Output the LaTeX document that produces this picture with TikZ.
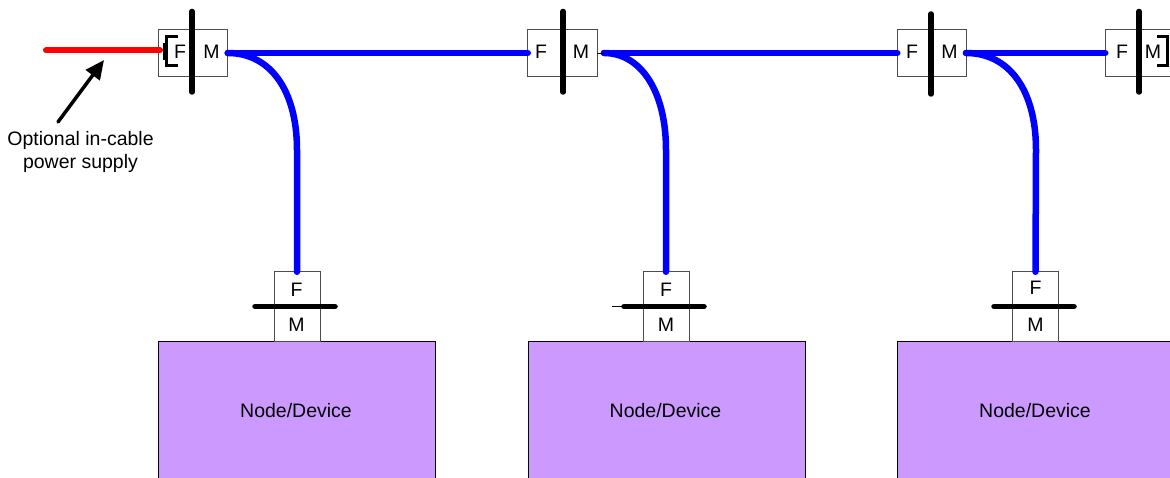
\documentclass[tikz,border=0pt]{standalone}
\usepackage{fontspec}
\setmainfont{Liberation Sans}
\usetikzlibrary{arrows.meta}
\definecolor{devicefill}{HTML}{CC99FF}
\begin{document}
\begin{tikzpicture}[
		x=1pt, y=-1pt,
		shell/.style={draw=black!70, fill=white, line width=1pt, minimum width=#1, inner sep=0pt, outer sep=0pt},
		device/.style={draw=black, fill=devicefill, line width=1pt, minimum width=277pt, minimum height=140pt, inner sep=0pt, outer sep=0pt},
		pin/.style={font=\fontsize{19.5pt}{23pt}\selectfont, inner sep=0pt},
		flange/.style={line width=5.5pt, line cap=round, color=black},
		cable/.style={line width=6.5pt, line cap=round, color=blue},
		power/.style={line width=6pt, line cap=round, color=red},
		bracket/.style={line width=3pt, color=black},
		stub/.style={line width=0.8pt, color=black},
		pointer/.style={-{Triangle[length=19pt,width=17pt]}, line width=3.5pt, line cap=round}
	]
	\clip (0,0) rectangle (1170,478);

	% Devices
	\node[device, anchor=north west] (dev1) at (158.5,341.3) {};
	\node[device, anchor=north west] (dev2) at (528,341.3) {};
	\node[device, anchor=north west] (dev3) at (897.5,341.3) {};
	\node[pin] at (296,410.5) {Node/Device};
	\node[pin] at (665.5,410.5) {Node/Device};
	\node[pin] at (1035,410.5) {Node/Device};

	% Top connectors
	\node[shell=69.5pt, minimum height=47pt] (top1) at (193,53) {};
	\node[shell=69.5pt, minimum height=47pt] (top2) at (562.5,53) {};
	\node[shell=69.5pt, minimum height=47pt] (top3) at (932,53) {};
	\node[shell=69.5pt, minimum height=47pt] (top4) at (1140,53) {};

	% Drop connectors
	\node[shell=46pt, minimum height=69.5pt] (drop1) at (297,306.5) {};
	\node[shell=46pt, minimum height=69.5pt] (drop2) at (666,306.5) {};
	\node[shell=46pt, minimum height=69.5pt] (drop3) at (1035.5,306.5) {};

	% Pin letters
	\node[pin] at (180,52) {F};
	\node[pin] at (211.5,52) {M};
	\node[pin] at (541,52) {F};
	\node[pin] at (581,52) {M};
	\node[pin] at (912,52) {F};
	\node[pin] at (949.5,52) {M};
	\node[pin] at (1122,52) {F};
	\node[pin] at (1153,52) {M};
	\node[pin] at (296.5,289.5) {F};
	\node[pin] at (296.5,324.5) {M};
	\node[pin] at (666,289.5) {F};
	\node[pin] at (666,324.5) {M};
	\node[pin] at (1035.5,287.5) {F};
	\node[pin] at (1035.5,324.5) {M};

	% Flanges
	\draw[flange] (192,11.5) -- (192,92);
	\draw[flange] (563,11.5) -- (563,92);
	\draw[flange] (931,14) -- (931,94);
	\draw[flange] (1139,11.5) -- (1139,92);
	\draw[flange] (255,306.5) -- (335,306.5);
	\draw[flange] (624,306.5) -- (704,306.5);
	\draw[flange] (994,306.5) -- (1074,306.5);

	% Cables
	\coordinate (out2) at (604,53);
	\coordinate (out3) at (966,53);
	\draw[cable] (top1.east) -- (top2.west);
	\draw[cable] (out2) -- (top3.west);
	\draw[cable] (out3) -- (top4.west);
	\draw[cable] (top1.east) .. controls (270,53) and (297,90) .. (297,150) -- (drop1.north);
	\draw[cable] (out2) .. controls (640,53) and (666,90) .. (666,150) -- (drop2.north);
	\draw[cable] (out3) .. controls (1009,53) and (1036,90) .. (1036,150) -- (drop3.north);

	% Stubs
	\coordinate (tail2) at (612,306.5);
	\draw[stub] (top2.east) -- (out2);
	\draw[stub] (tail2) -- (622,306.5);

	% Power feed and termination
	\coordinate (feed) at (160,50.5);
	\draw[power] (46,50.5) -- (feed);
	\fill[black] (163,43) rectangle (168,60);
	\draw[bracket] (178,37) -- (166,37) -- (166,66) -- (178,66);
	\draw[bracket] (1157,37) -- (1167,37) -- (1167,66) -- (1157,66);

	% Label
	\node[pin, align=center] (supply) at (80.5,151.5) {Optional in-cable\\power supply};
	\coordinate (foot) at (58,122);
	\coordinate (tip) at (104,60);
	\draw[pointer] (foot) -- (tip);
\end{tikzpicture}
\end{document}
